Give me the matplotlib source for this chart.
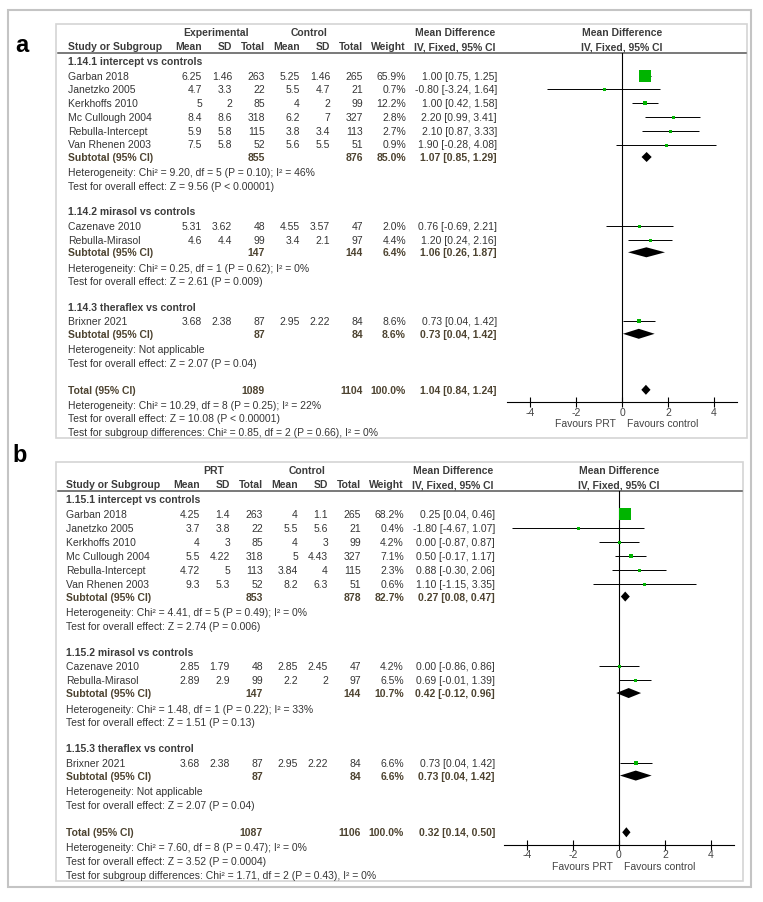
import matplotlib
matplotlib.use("Agg")
import matplotlib.pyplot as plt
from matplotlib.patches import Rectangle

plt.rcParams['font.family'] = ['Liberation Sans', 'DejaVu Sans']
plt.rcParams['axes.unicode_minus'] = False

# ---------------------------------------------------------------------
# Datos
# ---------------------------------------------------------------------
studies = ["Garban 2018", "Janetzko 2005", "Kerkhoffs 2010", "Mc Cullough 2004",
           "Rebulla-Intercept", "Van Rhenen 2003", "Cazenave 2010", "Rebulla-Mirasol",
           "Brixner 2021"]
study_group = [0, 0, 0, 0, 0, 0, 1, 1, 2]

# panel a
exp_mean_a = [6.25, 4.7, 5, 8.4, 5.9, 7.5, 5.31, 4.6, 3.68]
exp_sd_a = [1.46, 3.3, 2, 8.6, 5.8, 5.8, 3.62, 4.4, 2.38]
exp_n_a = [263, 22, 85, 318, 115, 52, 48, 99, 87]
ctl_mean_a = [5.25, 5.5, 4, 6.2, 3.8, 5.6, 4.55, 3.4, 2.95]
ctl_sd_a = [1.46, 4.7, 2, 7, 3.4, 5.5, 3.57, 2.1, 2.22]
ctl_n_a = [265, 21, 99, 327, 113, 51, 47, 97, 84]
weight_a = [65.9, 0.7, 12.2, 2.8, 2.7, 0.9, 2.0, 4.4, 8.6]
md_a = [1.00, -0.80, 1.00, 2.20, 2.10, 1.90, 0.76, 1.20, 0.73]
lo_a = [0.75, -3.24, 0.42, 0.99, 0.87, -0.28, -0.69, 0.24, 0.04]
hi_a = [1.25, 1.64, 1.58, 3.41, 3.33, 4.08, 2.21, 2.16, 1.42]

subgroups_a = ["1.14.1 intercept vs controls", "1.14.2 mirasol vs controls",
               "1.14.3 theraflex vs control"]
sub_exp_n_a = [855, 147, 87]
sub_ctl_n_a = [876, 144, 84]
sub_weight_a = [85.0, 6.4, 8.6]
sub_md_a = [1.07, 1.06, 0.73]
sub_lo_a = [0.85, 0.26, 0.04]
sub_hi_a = [1.29, 1.87, 1.42]
sub_het_a = ["Heterogeneity: Chi² = 9.20, df = 5 (P = 0.10); I² = 46%",
             "Heterogeneity: Chi² = 0.25, df = 1 (P = 0.62); I² = 0%",
             "Heterogeneity: Not applicable"]
sub_test_a = ["Test for overall effect: Z = 9.56 (P < 0.00001)",
              "Test for overall effect: Z = 2.61 (P = 0.009)",
              "Test for overall effect: Z = 2.07 (P = 0.04)"]
total_a = [1089, 1104, 100.0, 1.04, 0.84, 1.24]
total_notes_a = ["Heterogeneity: Chi² = 10.29, df = 8 (P = 0.25); I² = 22%",
                 "Test for overall effect: Z = 10.08 (P < 0.00001)",
                 "Test for subgroup differences: Chi² = 0.85, df = 2 (P = 0.66), I² = 0%"]

# panel b
exp_mean_b = [4.25, 3.7, 4, 5.5, 4.72, 9.3, 2.85, 2.89, 3.68]
exp_sd_b = [1.4, 3.8, 3, 4.22, 5, 5.3, 1.79, 2.9, 2.38]
exp_n_b = [263, 22, 85, 318, 113, 52, 48, 99, 87]
ctl_mean_b = [4, 5.5, 4, 5, 3.84, 8.2, 2.85, 2.2, 2.95]
ctl_sd_b = [1.1, 5.6, 3, 4.43, 4, 6.3, 2.45, 2, 2.22]
ctl_n_b = [265, 21, 99, 327, 115, 51, 47, 97, 84]
weight_b = [68.2, 0.4, 4.2, 7.1, 2.3, 0.6, 4.2, 6.5, 6.6]
md_b = [0.25, -1.80, 0.00, 0.50, 0.88, 1.10, 0.00, 0.69, 0.73]
lo_b = [0.04, -4.67, -0.87, -0.17, -0.30, -1.15, -0.86, -0.01, 0.04]
hi_b = [0.46, 1.07, 0.87, 1.17, 2.06, 3.35, 0.86, 1.39, 1.42]

subgroups_b = ["1.15.1 intercept vs controls", "1.15.2 mirasol vs controls",
               "1.15.3 theraflex vs control"]
sub_exp_n_b = [853, 147, 87]
sub_ctl_n_b = [878, 144, 84]
sub_weight_b = [82.7, 10.7, 6.6]
sub_md_b = [0.27, 0.42, 0.73]
sub_lo_b = [0.08, -0.12, 0.04]
sub_hi_b = [0.47, 0.96, 1.42]
sub_het_b = ["Heterogeneity: Chi² = 4.41, df = 5 (P = 0.49); I² = 0%",
             "Heterogeneity: Chi² = 1.48, df = 1 (P = 0.22); I² = 33%",
             "Heterogeneity: Not applicable"]
sub_test_b = ["Test for overall effect: Z = 2.74 (P = 0.006)",
              "Test for overall effect: Z = 1.51 (P = 0.13)",
              "Test for overall effect: Z = 2.07 (P = 0.04)"]
total_b = [1087, 1106, 100.0, 0.32, 0.14, 0.50]
total_notes_b = ["Heterogeneity: Chi² = 7.60, df = 8 (P = 0.47); I² = 0%",
                 "Test for overall effect: Z = 3.52 (P = 0.0004)",
                 "Test for subgroup differences: Chi² = 1.71, df = 2 (P = 0.43), I² = 0%"]

xticks = [-4, -2, 0, 2, 4]

# ---------------------------------------------------------------------
# Estilo
# ---------------------------------------------------------------------
FS = 7.5
C_TXT = '#353535'
C_HEAD = '#3c3c3c'
C_SUB = '#4d4330'
GREEN = '#00b400'
W, H = 763, 903


def fmt_ci(m, l, h):
    return f"{m:.2f} [{l:.2f}, {h:.2f}]"


def draw_panel(fig, bg, p):
    top, sc, dx = p['top'], p['scale'], p['dx']

    def Y(off):
        return top + off * sc

    cols = [c + dx for c in [202, 232, 265, 300, 330, 363, 406, 497]]
    x_study = 68 + dx

    # encabezados
    bg.text(216 + dx, Y(0), p['exp_label'], ha='center', va='center', fontsize=FS,
            fontweight='bold', color=C_HEAD)
    bg.text(309 + dx, Y(0), 'Control', ha='center', va='center', fontsize=FS,
            fontweight='bold', color=C_HEAD)
    bg.text(455 + dx, Y(0), 'Mean Difference', ha='center', va='center', fontsize=FS,
            fontweight='bold', color=C_HEAD)
    bg.text(p['f_left'] + 115, Y(0), 'Mean Difference', ha='center', va='center',
            fontsize=FS, fontweight='bold', color=C_HEAD)
    heads = ['Mean', 'SD', 'Total', 'Mean', 'SD', 'Total', 'Weight']
    bg.text(x_study, Y(14), 'Study or Subgroup', ha='left', va='center', fontsize=FS,
            fontweight='bold', color=C_HEAD)
    for x, h in zip(cols, heads):
        bg.text(x, Y(14), h, ha='right', va='center', fontsize=FS,
                fontweight='bold', color=C_HEAD)
    bg.text(455 + dx, Y(14), 'IV, Fixed, 95% CI', ha='center', va='center',
            fontsize=FS, fontweight='bold', color=C_HEAD)
    bg.text(p['f_left'] + 115, Y(14), 'IV, Fixed, 95% CI', ha='center', va='center',
            fontsize=FS, fontweight='bold', color=C_HEAD)

    line_y = Y(20.5)
    axis_y = Y(370)
    bg.plot([58, p['box_right'] - 1], [line_y, line_y], color='#555555', lw=1.1)

    # marcos
    bg.add_patch(Rectangle((56, top - 8), p['box_right'] - 56, p['box_bottom'] - top + 8,
                           fill=False, ec='#d4d4d4', lw=1.2))
    bg.text(p['label_x'], p['label_y'], p['label'], ha='center', va='center',
            fontsize=17, fontweight='bold', color='black')

    # eje del forest plot
    fx = fig.add_axes([p['f_left'] / W, 1 - axis_y / H, 230 / W, (axis_y - line_y) / H])
    fx.patch.set_alpha(0)
    fx.set_xlim(-5, 5)
    fx.set_ylim(axis_y, line_y)
    for s in ['top', 'left', 'right']:
        fx.spines[s].set_visible(False)
    fx.spines['bottom'].set_linewidth(0.8)
    fx.set_yticks([])
    fx.set_xticks(xticks)
    fx.set_xticklabels([str(t) for t in xticks])
    fx.tick_params(axis='x', direction='inout', length=7, width=0.8, labelsize=FS,
                   labelcolor='#444444', pad=0)
    fx.axvline(0, color='black', lw=0.8)
    fav_y = Y(391)
    fx.text(-0.25, fav_y, 'Favours PRT', ha='right', va='center', fontsize=FS,
            color='#444444', clip_on=False)
    fx.text(0.2, fav_y, 'Favours control', ha='left', va='center', fontsize=FS,
            color='#444444', clip_on=False)

    def diamond(y, m, l, h):
        fx.fill([l, m, h, m], [y, y - 5, y, y + 5], color='black', lw=0)

    # filas
    y = Y(29)
    for g in range(len(p['subgroups'])):
        bg.text(x_study, y, p['subgroups'][g], ha='left', va='center', fontsize=FS,
                fontweight='bold', color=C_HEAD)
        y += 14.5 * sc
        first = True
        for i in [k for k, gg in enumerate(study_group) if gg == g]:
            if not first:
                y += 13.8 * sc
            first = False
            vals = [f"{p['exp_mean'][i]:g}", f"{p['exp_sd'][i]:g}", str(p['exp_n'][i]),
                    f"{p['ctl_mean'][i]:g}", f"{p['ctl_sd'][i]:g}", str(p['ctl_n'][i]),
                    f"{p['weight'][i]:.1f}%"]
            bg.text(x_study, y, studies[i], ha='left', va='center', fontsize=FS, color=C_TXT)
            for x, v in zip(cols, vals):
                bg.text(x, y, v, ha='right', va='center', fontsize=FS, color=C_TXT)
            bg.text(cols[7], y, fmt_ci(p['md'][i], p['lo'][i], p['hi'][i]), ha='right',
                    va='center', fontsize=FS, color=C_TXT)
            fx.hlines(y, p['lo'][i], p['hi'][i], color='black', lw=0.7)
            side = max(3.0, 12.0 * (p['weight'][i] / 66.0) ** 0.6)
            fx.plot(p['md'][i], y, marker='s', ms=side * 0.72, color=GREEN, mew=0,
                    linestyle='none')
        y += 12.5 * sc
        bg.text(x_study, y, 'Subtotal (95% CI)', ha='left', va='center', fontsize=FS,
                fontweight='bold', color=C_SUB)
        bg.text(cols[2], y, str(p['sub_exp_n'][g]), ha='right', va='center', fontsize=FS,
                fontweight='bold', color=C_SUB)
        bg.text(cols[5], y, str(p['sub_ctl_n'][g]), ha='right', va='center', fontsize=FS,
                fontweight='bold', color=C_SUB)
        bg.text(cols[6], y, f"{p['sub_weight'][g]:.1f}%", ha='right', va='center',
                fontsize=FS, fontweight='bold', color=C_SUB)
        bg.text(cols[7], y, fmt_ci(p['sub_md'][g], p['sub_lo'][g], p['sub_hi'][g]),
                ha='right', va='center', fontsize=FS, fontweight='bold', color=C_SUB)
        diamond(y, p['sub_md'][g], p['sub_lo'][g], p['sub_hi'][g])
        y += 15.5 * sc
        bg.text(x_study, y, p['sub_het'][g], ha='left', va='center', fontsize=FS, color=C_TXT)
        y += 13.5 * sc
        bg.text(x_study, y, p['sub_test'][g], ha='left', va='center', fontsize=FS, color=C_TXT)
        if g < len(p['subgroups']) - 1:
            y += 25.5 * sc

    # total
    y += 27 * sc
    t = p['total']
    bg.text(x_study, y, 'Total (95% CI)', ha='left', va='center', fontsize=FS,
            fontweight='bold', color=C_SUB)
    bg.text(cols[2], y, str(t[0]), ha='right', va='center', fontsize=FS,
            fontweight='bold', color=C_SUB)
    bg.text(cols[5], y, str(t[1]), ha='right', va='center', fontsize=FS,
            fontweight='bold', color=C_SUB)
    bg.text(cols[6], y, f"{t[2]:.1f}%", ha='right', va='center', fontsize=FS,
            fontweight='bold', color=C_SUB)
    bg.text(cols[7], y, fmt_ci(t[3], t[4], t[5]), ha='right', va='center', fontsize=FS,
            fontweight='bold', color=C_SUB)
    diamond(y, t[3], t[4], t[5])
    for k, note in enumerate(p['notes']):
        y += (15 if k == 0 else 13.6) * sc
        bg.text(x_study, y, note, ha='left', va='center', fontsize=FS, color=C_TXT)


fig = plt.figure(figsize=(W / 100, H / 100), dpi=100)
bg = fig.add_axes([0, 0, 1, 1])
bg.set_xlim(0, W)
bg.set_ylim(H, 0)
bg.axis('off')

# marco exterior
bg.add_patch(Rectangle((8, 11), 743, 877, fill=False, ec='#c4c4c4', lw=1.5))

panel_a = dict(label='a', label_x=22, label_y=45, top=33, scale=1.0, dx=0,
               box_right=747, box_bottom=439, f_left=507, exp_label='Experimental',
               exp_mean=exp_mean_a, exp_sd=exp_sd_a, exp_n=exp_n_a,
               ctl_mean=ctl_mean_a, ctl_sd=ctl_sd_a, ctl_n=ctl_n_a,
               weight=weight_a, md=md_a, lo=lo_a, hi=hi_a,
               subgroups=subgroups_a, sub_exp_n=sub_exp_n_a, sub_ctl_n=sub_ctl_n_a,
               sub_weight=sub_weight_a, sub_md=sub_md_a, sub_lo=sub_lo_a,
               sub_hi=sub_hi_a, sub_het=sub_het_a, sub_test=sub_test_a,
               total=total_a, notes=total_notes_a)
panel_b = dict(label='b', label_x=20, label_y=456, top=471, scale=1.0125, dx=-2,
               box_right=743, box_bottom=882, f_left=504, exp_label='PRT',
               exp_mean=exp_mean_b, exp_sd=exp_sd_b, exp_n=exp_n_b,
               ctl_mean=ctl_mean_b, ctl_sd=ctl_sd_b, ctl_n=ctl_n_b,
               weight=weight_b, md=md_b, lo=lo_b, hi=hi_b,
               subgroups=subgroups_b, sub_exp_n=sub_exp_n_b, sub_ctl_n=sub_ctl_n_b,
               sub_weight=sub_weight_b, sub_md=sub_md_b, sub_lo=sub_lo_b,
               sub_hi=sub_hi_b, sub_het=sub_het_b, sub_test=sub_test_b,
               total=total_b, notes=total_notes_b)

draw_panel(fig, bg, panel_a)
draw_panel(fig, bg, panel_b)

fig.savefig('out.png', dpi=100)
